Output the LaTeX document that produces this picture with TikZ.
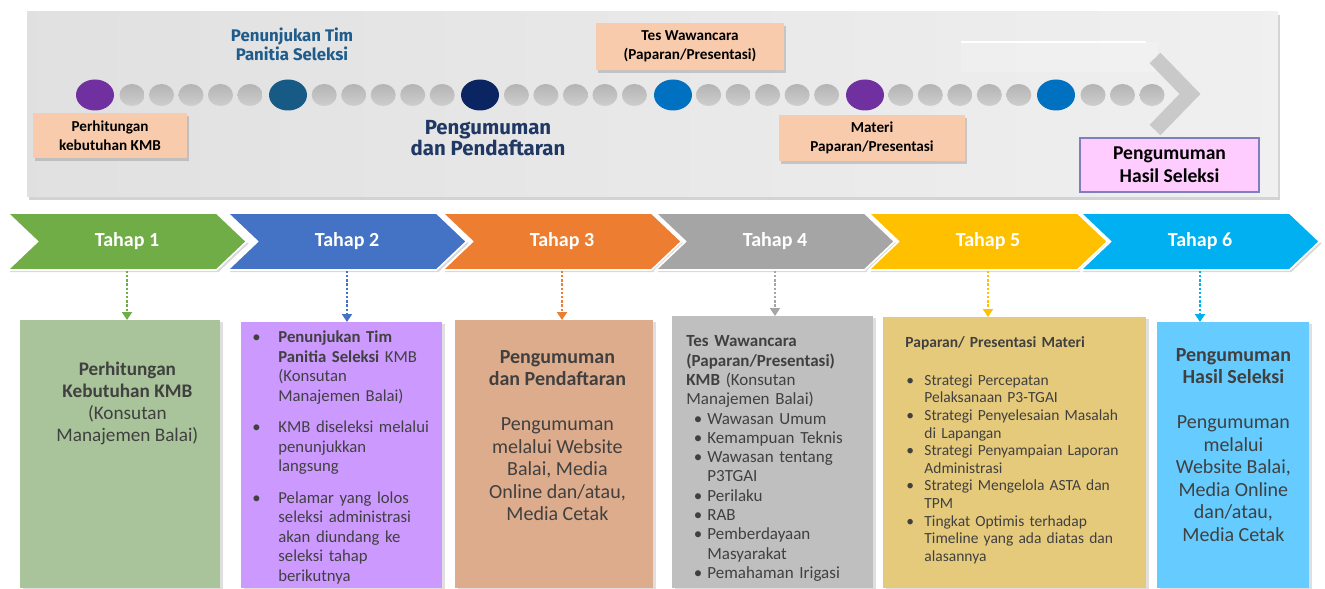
\documentclass[tikz,border=0pt]{standalone}
\usepackage{fontspec}
\setmainfont{Carlito}
\newfontfamily\headfont{Fira Sans}
\usetikzlibrary{arrows.meta,shapes.geometric,shapes.symbols,shadows,positioning,calc}

\definecolor{tahapA}{HTML}{70AD47}
\definecolor{tahapB}{HTML}{4472C4}
\definecolor{tahapC}{HTML}{ED7D31}
\definecolor{tahapD}{HTML}{A5A5A5}
\definecolor{tahapE}{HTML}{FFC000}
\definecolor{tahapF}{HTML}{00B0F0}
\definecolor{boxA}{HTML}{A9C49A}
\definecolor{boxB}{HTML}{CC99FF}
\definecolor{boxC}{HTML}{DDAC8C}
\definecolor{boxD}{HTML}{BFBFBF}
\definecolor{boxE}{HTML}{E6CA7C}
\definecolor{boxF}{HTML}{66CCFF}
\definecolor{dotpurple}{HTML}{7030A0}
\definecolor{dotteal}{HTML}{175A86}
\definecolor{dotnavy}{HTML}{0B2462}
\definecolor{dotblue}{HTML}{0070C0}
\definecolor{dotdark}{HTML}{B4B4B4}
\definecolor{dotlight}{HTML}{CECECE}
\definecolor{tagfill}{HTML}{F8CBAD}
\definecolor{pinkfill}{HTML}{FFCCFF}
\definecolor{pinkline}{HTML}{7F7FC0}
\definecolor{cardtext}{HTML}{404040}
\definecolor{headteal}{HTML}{1F5C8B}
\definecolor{headnavy}{HTML}{1F3864}

% bullet line with hanging indent
\newlength\bulind
\newlength\bulpre
\newcommand{\bulx}[1]{\hangindent=\bulind\hangafter=1\noindent\hbox to\bulind{\hskip\bulpre\textbullet\hfil}#1}
\newcommand{\bul}[1]{\par\bulx{#1}}

\begin{document}
\begin{tikzpicture}[x=0.5pt,y=-0.5pt]
\tikzstyle{stage}=[signal, signal to=east, signal from=west, signal pointer angle=87, minimum width=119.5pt, minimum height=28.5pt, inner sep=0, draw=white, line width=0.8pt, text=white, font=\fontsize{10}{12}\selectfont\bfseries, drop shadow={shadow xshift=1pt, shadow yshift=-1pt, opacity=0.3}]
\tikzstyle{bigdot}=[ellipse, minimum width=19pt, minimum height=15.5pt, inner sep=0]
\tikzstyle{smalldot}=[ellipse, minimum width=12.5pt, minimum height=11pt, inner sep=0, top color=dotdark, bottom color=dotlight]
\tikzstyle{tag}=[fill=tagfill, inner sep=0, align=center, font=\fontsize{7.6}{9.5}\selectfont\bfseries, drop shadow={shadow xshift=1pt, shadow yshift=-1.5pt, opacity=0.35}]
\tikzstyle{card}=[anchor=north west, inner sep=0, drop shadow={shadow xshift=1.5pt, shadow yshift=-1pt, opacity=0.25}]
\tikzstyle{cardtxt}=[inner sep=0, text=cardtext]
\tikzstyle{flow}=[-{Triangle[length=4pt,width=5pt]}, line width=1.2pt, dash pattern=on 1.2pt off 0.9pt]

\useasboundingbox (0,0) rectangle (1325,588);

% timeline banner
\fill[left color=black!12, right color=black!6, drop shadow={shadow xshift=1pt, shadow yshift=-1.5pt, opacity=0.35}] (27,12) rectangle (1278,197);
\fill[white, opacity=0.18] (961,42) rectangle (1158,72);
\draw[white, line width=1pt] (961,42) -- (1146,42);
\draw[black!21, line width=7.5pt, miter limit=10] (1155,58) -- (1190,94) -- (1155,130);

\foreach \k in {0,...,4}
  \foreach \j in {0,...,4}
    \node[smalldot] (sd\k\j) at ({95+192.2*\k+37+29.5*\j},95) {};
\foreach \j in {0,1,2}
  \node[smalldot] (se\j) at ({1056+37+29.5*\j},95) {};
\foreach \n/\x/\c in {1/95/dotpurple, 2/288/dotteal, 3/480/dotnavy, 4/673/dotblue, 5/865/dotpurple, 6/1056/dotblue}
  \node[bigdot, fill=\c] (bd\n) at (\x,95) {};

\node[tag, minimum width=77pt, minimum height=22.5pt] (tagA) at (110,135.5) {Perhitungan\\kebutuhan KMB};
\node[tag, minimum width=94pt, minimum height=23.5pt] (tagB) at (690,46.5) {Tes Wawancara\\(Paparan/Presentasi)};
\node[tag, minimum width=93pt, minimum height=23pt] (tagC) at (872,138) {Materi\\Paparan/Presentasi};
\node[fill=pinkfill, draw=pinkline, line width=1pt, minimum width=89.5pt, minimum height=27pt, align=center, inner sep=0, font=\fontsize{9.8}{11.5}\selectfont\bfseries] (tagD) at (1169.5,165) {Pengumuman\\Hasil Seleksi};
\node[align=center, text=headteal, font=\headfont\fontsize{8.4}{9.5}\selectfont\bfseries] (headA) at (292,44.5) {Penunjukan Tim\\Panitia Seleksi};
\node[align=center, text=headnavy, font=\headfont\fontsize{10.2}{10.5}\selectfont\bfseries] (headB) at (488,138) {Pengumuman\\dan Pendaftaran};

% stages
\foreach \n/\x/\c in {1/127/tahapA, 2/347/tahapB, 3/562/tahapC, 4/775/tahapD, 5/988/tahapE, 6/1200/tahapF}
  \node[stage, fill=\c] (chev\n) at (\x,241.5) {Tahap \n};

% cards
\node[card, fill=boxA, minimum width=100pt, minimum height=134pt] (box1) at (20,320) {};
\node[card, fill=boxB, minimum width=100.5pt, minimum height=133pt] (box2) at (241,322) {};
\node[card, fill=boxC, minimum width=99pt, minimum height=134pt] (box3) at (455,320) {};
\node[card, fill=boxD, minimum width=100.5pt, minimum height=136pt] (box4) at (672,316) {};
\node[card, fill=boxE, minimum width=131.5pt, minimum height=135.5pt] (box5) at (883,317) {};
\node[card, fill=boxF, minimum width=76pt, minimum height=133pt] (box6) at (1157,322) {};

\node[cardtxt, align=center, font=\fontsize{9.6}{11}\selectfont, below=20.75pt of box1.north, xshift=3.5pt] (txt1) {\textbf{Perhitungan}\\\textbf{Kebutuhan KMB}\\(Konsutan\\Manajemen Balai)};
\node[cardtxt, align=left, text width=97pt, font=\fontsize{8.35}{9.75}\selectfont, below right=4.25pt and 0pt of box2.north west] (txt2) {\bulind=18.5pt\bulpre=5.5pt
\bulx{\textbf{Penunjukan Tim}\newline\textbf{Panitia Seleksi} KMB\newline(Konsutan\newline Manajemen Balai)}\par\vspace{6pt}
\bul{KMB diseleksi melalui\newline penunjukkan\newline langsung}\par\vspace{6pt}
\bul{Pelamar yang lolos\newline seleksi administrasi\newline akan diundang ke\newline seleksi tahap\newline berikutnya}\par};
\node[cardtxt, align=center, font=\fontsize{10}{11.25}\selectfont, below=15pt of box3.north, xshift=1.5pt] (txt3) {\textbf{Pengumuman}\\\textbf{dan Pendaftaran}\\[11.25pt]Pengumuman\\melalui Website\\Balai, Media\\Online dan/atau,\\Media Cetak};
\node[cardtxt, align=left, text width=93pt, font=\fontsize{8.5}{9.65}\selectfont, below right=9.7pt and 7pt of box4.north west] (txt4) {\bulind=10.5pt\bulpre=3.75pt
\noindent\textbf{Tes Wawancara}\newline\textbf{(Paparan/Presentasi)}\newline\textbf{KMB} (Konsutan\newline Manajemen Balai)
\bul{Wawasan Umum}
\bul{Kemampuan Teknis}
\bul{Wawasan tentang\newline P3TGAI}
\bul{Perilaku}
\bul{RAB}
\bul{Pemberdayaan\newline Masyarakat}
\bul{Pemahaman Irigasi}\par};
\node[cardtxt, align=left, text width=118pt, font=\fontsize{7.75}{8.8}\selectfont, below right=9.5pt and 11pt of box5.north west] (txt5) {\bulind=9.5pt\bulpre=0.5pt
\noindent\textbf{Paparan/ Presentasi Materi}\par\vspace{10.2pt}
\bul{Strategi Percepatan\newline Pelaksanaan P3-TGAI}
\bul{Strategi Penyelesaian Masalah\newline di Lapangan}
\bul{Strategi Penyampaian Laporan\newline Administrasi}
\bul{Strategi Mengelola ASTA dan\newline TPM}
\bul{Tingkat Optimis terhadap\newline Timeline yang ada diatas dan\newline alasannya}\par};
\node[cardtxt, align=center, font=\fontsize{10}{11.25}\selectfont, below=13pt of box6.north] (txt6) {\textbf{Pengumuman}\\\textbf{Hasil Seleksi}\\[11.25pt]Pengumuman\\melalui\\Website Balai,\\Media Online\\dan/atau,\\Media Cetak};

% links
\foreach \n/\c in {1/tahapA, 2/tahapB, 3/tahapC, 4/tahapD, 5/tahapE, 6/tahapF}
  \draw[flow, \c] (chev\n.south) -- (chev\n.south |- box\n.north);
\end{tikzpicture}
\end{document}
